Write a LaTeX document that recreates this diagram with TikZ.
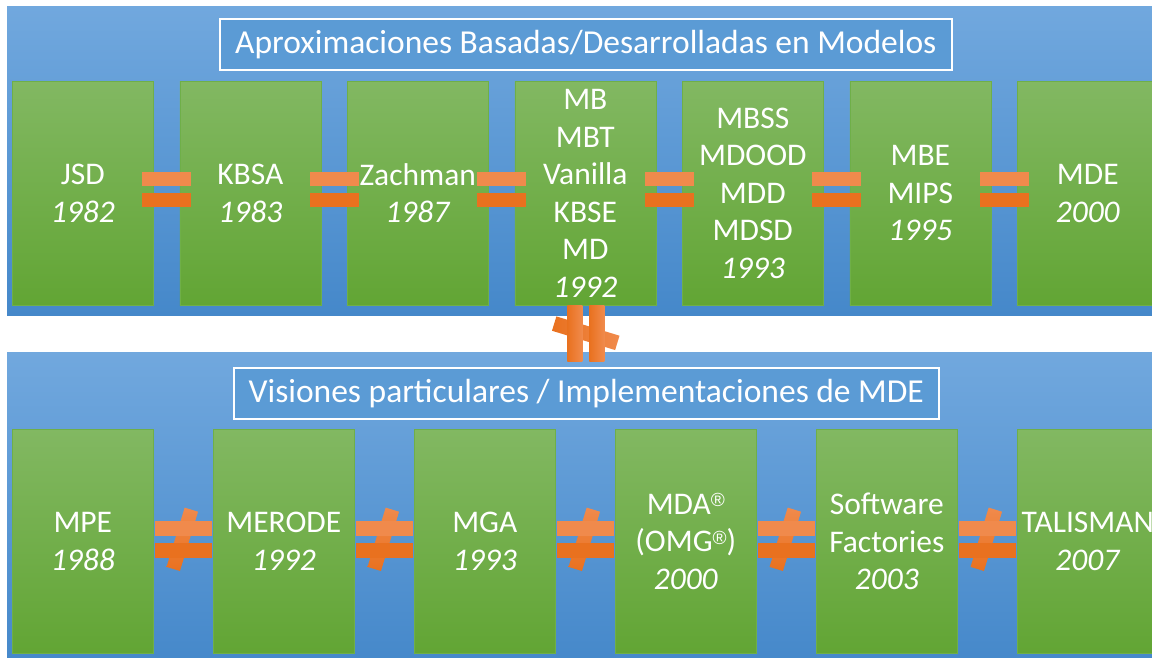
\documentclass[tikz,border=0pt]{standalone}
\usepackage{fontspec}
\setmainfont{Carlito}
\newfontfamily\regfont{Liberation Sans}
\newcommand{\regmark}{{\regfont\fontsize{19}{19}\selectfont\raisebox{7.5pt}{®}}}
\usetikzlibrary{calc}
\definecolor{panelTop}{HTML}{71A8DE}
\definecolor{panelBot}{HTML}{4588CA}
\definecolor{greenTop}{HTML}{82B862}
\definecolor{greenBot}{HTML}{62A534}
\definecolor{greenEdge}{HTML}{6FAF48}
\definecolor{titleFill}{HTML}{5B9BD5}
\definecolor{orLight}{HTML}{F08A4C}
\definecolor{orDark}{HTML}{E9711F}
\begin{document}
\begin{tikzpicture}[x=1pt,y=-1pt,
  gbox/.style={top color=greenTop,bottom color=greenBot,draw=greenEdge,line width=0.6pt,
    minimum width=141pt,minimum height=224pt,inner sep=0pt,anchor=north west,
    text=white,align=center,font=\fontsize{31.5}{37.5}\selectfont},
  titlebox/.style={draw=white,line width=1.6pt,fill=titleFill,text=white,minimum height=51pt,
    inner sep=0pt,anchor=north west,font=\fontsize{33.5}{36}\selectfont},
  barlight/.style={fill=orLight,inner sep=0pt},
  bardark/.style={fill=orDark,inner sep=0pt},
  slash/.style={top color=orLight,bottom color=orDark,inner sep=0pt},
  vslash/.style={left color=orDark,right color=orLight,inner sep=0pt}
]
\useasboundingbox (0,0) rectangle (1152,657);
\clip (0,0) rectangle (1152,657);
\fill[white] (0,0) rectangle (1152,657);
% panels
\shade[top color=panelTop,bottom color=panelBot] (7,6) rectangle (1160,315);
\shade[top color=panelTop,bottom color=panelBot] (7,352) rectangle (1160,665);
% titles
\node[titlebox,minimum width=732pt] (tt) at (219,18) {Aproximaciones Basadas/Desarrolladas en Modelos};
\node[titlebox,minimum width=705pt] (bt) at (233,367) {Visiones particulares / Implementaciones de MDE};
% top boxes
\node[gbox] (t1) at (12,81) {JSD\\\textit{1982}};
\node[gbox] (t2) at (179.5,81) {KBSA\\\textit{1983}};
\node[gbox] (t3) at (347,81) {Zachman\\\textit{1987}};
\node[gbox] (t4) at (514.5,81) {MB\\MBT\\Vanilla\\KBSE\\MD\\\textit{1992}};
\node[gbox] (t5) at (682,81) {MBSS\\MDOOD\\MDD\\MDSD\\\textit{1993}};
\node[gbox] (t6) at (849.5,81) {MBE\\MIPS\\\textit{1995}};
\node[gbox] (t7) at (1017,81) {MDE\\\textit{2000}};
% bottom boxes
\node[gbox] (b1) at (12,429) {MPE\\\textit{1988}};
\node[gbox] (b2) at (213,429) {MERODE\\\textit{1992}};
\node[gbox] (b3) at (414,429) {MGA\\\textit{1993}};
\node[gbox] (b4) at (615,429) {MDA\regmark\\(OMG\regmark)\\\textit{2000}};
\node[gbox] (b5) at (816,429) {Software\\Factories\\\textit{2003}};
\node[gbox] (b6) at (1017,429) {TALISMAN\\\textit{2007}};
% equal signs
\foreach \a/\b [count=\i] in {t1/t2,t2/t3,t3/t4,t4/t5,t5/t6,t6/t7}{
  \coordinate (eq\i) at ($(\a.east)!0.5!(\b.west)$);
  \node[barlight,minimum width=49pt,minimum height=14pt] (eql\i) at ($(eq\i)+(0,-14)$) {};
  \node[bardark,minimum width=49pt,minimum height=14pt] (eqd\i) at ($(eq\i)+(0,7)$) {};
}
% not-equal signs
\foreach \a/\b [count=\i] in {b1/b2,b2/b3,b3/b4,b4/b5,b5/b6}{
  \coordinate (ne\i) at ($(\a.east)!0.5!(\b.west)$);
  \node[slash,minimum width=14pt,minimum height=62pt,rotate=-17] (nes\i) at ($(ne\i)+(-1,-2)$) {};
  \node[barlight,minimum width=57pt,minimum height=15pt] (nel\i) at ($(ne\i)+(0,-12.5)$) {};
  \node[bardark,minimum width=57pt,minimum height=15pt] (ned\i) at ($(ne\i)+(0,9)$) {};
}
% vertical not-equal between panels
\coordinate (mid) at ($(t4.south)!0.45!(bt.north)$);
\node[vslash,minimum width=66pt,minimum height=15pt,rotate=-17] (mx) at (mid) {};
\node[vslash,minimum width=15pt,minimum height=56pt] (ml) at ($(mid)+(-11,0)$) {};
\node[vslash,minimum width=15pt,minimum height=56pt] (mr) at ($(mid)+(11,0)$) {};
\end{tikzpicture}
\end{document}
